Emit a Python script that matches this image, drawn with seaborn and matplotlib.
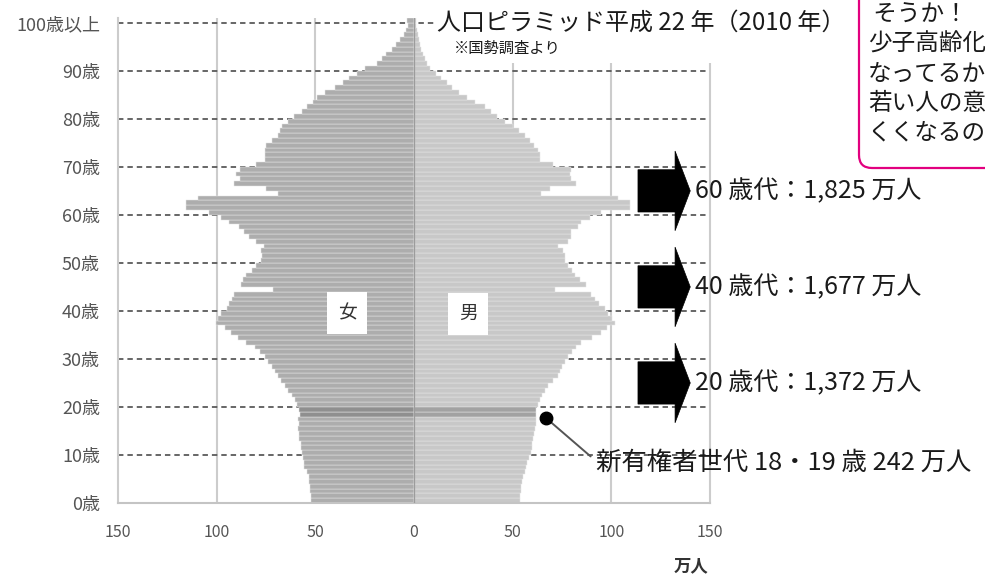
import numpy as np
import pandas as pd
import matplotlib
matplotlib.use("Agg")
import matplotlib.pyplot as plt
import seaborn as sns
from matplotlib.patches import Polygon, FancyBboxPatch, Rectangle

# ---------------- data (万人) ----------------
ages = list(range(0, 101))
female = [52.0, 52.2, 52.5, 52.6, 53.0, 53.0, 54.2, 55.5, 55.6, 56.0,
          56.8, 57.4, 57.5, 58.2, 58.3, 58.7, 58.5, 58.6, 58.0, 58.2,
          59.5, 60.5, 62.0, 64.0, 65.5, 67.5, 69.0, 70.6, 72.0, 74.0,
          75.7, 78.0, 80.8, 85.0, 89.0, 92.5, 96.0, 100.3, 99.5, 97.7,
          95.0, 94.0, 92.0, 91.0, 71.5, 87.6, 86.5, 85.0, 82.0, 80.0,
          77.5, 77.0, 77.5, 76.0, 80.0, 83.5, 86.0, 88.5, 94.0, 98.0,
          104.0, 115.4, 115.4, 109.5, 69.0, 75.0, 91.0, 88.4, 90.0, 88.4,
          80.0, 75.7, 75.7, 75.7, 75.0, 72.0, 69.0, 68.0, 67.0, 64.0,
          61.0, 57.0, 54.0, 51.0, 49.0, 45.0, 40.0, 36.0, 33.0, 29.0,
          25.0, 19.0, 16.0, 14.0, 11.0, 9.0, 7.0, 5.0, 4.0, 3.0,
          3.5]
male = [53.6, 53.8, 54.0, 54.4, 54.5, 55.0, 56.0, 57.0, 57.5, 58.5,
        59.5, 60.0, 60.0, 60.5, 61.0, 61.5, 61.8, 62.0, 62.0, 62.0,
        62.8, 63.7, 65.0, 66.5, 68.0, 70.5, 73.0, 74.0, 75.0, 76.5,
        78.0, 80.0, 82.0, 84.8, 90.0, 94.8, 98.0, 101.7, 100.5, 98.5,
        96.7, 94.0, 91.6, 89.5, 71.3, 87.0, 84.0, 81.4, 80.0, 78.0,
        76.4, 76.4, 75.5, 73.0, 78.0, 79.7, 79.7, 83.1, 84.8, 89.0,
        95.0, 109.3, 109.3, 103.4, 64.5, 68.8, 82.3, 79.7, 79.0, 79.7,
        70.5, 63.7, 64.0, 63.0, 61.0, 59.0, 56.0, 53.0, 50.0, 46.0,
        42.0, 39.0, 36.0, 31.0, 27.0, 23.0, 19.5, 16.5, 13.5, 11.0,
        8.0, 6.8, 5.5, 4.5, 3.8, 3.0, 2.5, 2.0, 1.5, 1.2,
        1.0]
highlight_ages = [18, 19]
age_ticks = [0, 10, 20, 30, 40, 50, 60, 70, 80, 90, 100]
age_labels = ["0歳", "10歳", "20歳", "30歳", "40歳", "50歳",
              "60歳", "70歳", "80歳", "90歳", "100歳以上"]
x_ticks = [-150, -100, -50, 0, 50, 100, 150]
x_labels = ["150", "100", "50", "0", "50", "100", "150"]
decades = [60, 40, 20]
decade_totals = ["1,825", "1,677", "1,372"]
title = "人口ピラミッド平成 22 年（2010 年）"
source = "※国勢調査より"
new_voters = "新有権者世代 18・19 歳 242 万人"
bubble_lines = [" そうか！", "少子高齢化", "なってるか", "若い人の意", "くくなるの"]

# ---------------- style ----------------
sns.set_style("white")
plt.rcParams["font.family"] = ["Noto Sans CJK JP", "DejaVu Sans"]

W, H = 985, 585
fig = plt.figure(figsize=(W / 100, H / 100), dpi=100)
ax = fig.add_axes([118 / W, 1 - 503 / H, 592 / W, 485 / H])

df = pd.DataFrame({
    "age": ages + ages,
    "pop": [-v for v in female] + male,
    "side": ["女"] * len(ages) + ["男"] * len(ages),
})
df["group"] = df["side"] + np.where(df["age"].isin(highlight_ages), "_hl", "")
palette = {"女": "#adadad", "男": "#c8c8c8", "女_hl": "#8f8f8f", "男_hl": "#a2a2a2"}

sns.barplot(data=df, x="pop", y="age", hue="group", palette=palette,
            orient="y", native_scale=True, dodge=False, width=1,
            errorbar=None, legend=False, saturation=1,
            edgecolor="#e6e6e6", linewidth=0.35, ax=ax, zorder=2)

ax.set_xlim(-150, 150)
ax.set_ylim(-0.5, 100.5)
ax.set_xlabel("")
ax.set_ylabel("")

# grid lines
for a in age_ticks[1:]:
    ax.axhline(a - 0.5, color="#5a5a5a", lw=1.3, dashes=(3, 2.2), zorder=1)
for xv in x_ticks[1:-1]:
    if xv != 0:
        ax.axvline(xv, color="#cccccc", lw=1.5, zorder=0.5)
ax.axvline(0, color="#9c9c9c", lw=0.9, zorder=3)

ax.spines["top"].set_visible(False)
for s in ["left", "right"]:
    ax.spines[s].set_color("#cccccc")
    ax.spines[s].set_linewidth(1.5)
ax.spines["bottom"].set_color("#c4c4c4")
ax.spines["bottom"].set_linewidth(1.5)

ax.set_yticks([a - 0.5 for a in age_ticks])
ax.set_yticklabels(age_labels)
ax.set_xticks(x_ticks)
ax.set_xticklabels(x_labels)
ax.tick_params(axis="y", direction="in", length=3, color="#777777",
               labelcolor="#555555", labelsize=13, pad=13)
ax.tick_params(axis="x", direction="inout", length=6, color="#c4c4c4",
               labelcolor="#555555", labelsize=11.5, pad=12)

# 女 / 男 labels
box = dict(boxstyle="square,pad=0.55", fc="white", ec="none")
ax.text(-34, 39.1, "女", ha="center", va="center", fontsize=13.5,
        color="#333333", bbox=box, zorder=4)
ax.text(27.4, 38.9, "男", ha="center", va="center", fontsize=13.5,
        color="#333333", bbox=box, zorder=4)

# arrows + decade totals
for d, tot in zip(decades, decade_totals):
    c = d + 4.5
    pts = [(113.5, c - 4.4), (132.3, c - 4.4), (132.3, c - 8.3), (140.0, c),
           (132.3, c + 8.3), (132.3, c + 4.4), (113.5, c + 4.4)]
    ax.add_patch(Polygon(pts, closed=True, fc="black", ec="black",
                         lw=0.5, zorder=5, clip_on=False))
    ax.text(142.4, c, f"{d} 歳代：{tot} 万人", ha="left", va="center",
            fontsize=18, color="#1a1a1a", zorder=6)

# new voters annotation
ax.plot([66.9, 89.5], [17.2, 9.2], color="#555555", lw=1.4, zorder=5,
        clip_on=False)
ax.plot([66.9], [17.2], "o", color="black", ms=9, zorder=6, clip_on=False)
ax.text(92.2, 7.8, new_voters, ha="left", va="center", fontsize=18.3,
        color="#1a1a1a", zorder=6)

# title block
fig.add_artist(Rectangle((435 / W, 1 - 63 / H), 410 / W, 63 / H,
                         transform=fig.transFigure, fc="white", ec="none",
                         zorder=2))
fig.text(437 / W, 1 - 23 / H, title, ha="left", va="center", fontsize=17.3,
         color="#1a1a1a", zorder=3)
fig.text(454 / W, 1 - 48 / H, source, ha="left", va="center", fontsize=11,
         color="#1a1a1a", zorder=3)

# x-axis unit
fig.text(691 / W, 1 - 566 / H, "万人", ha="center", va="center",
         fontsize=12.5, fontweight="bold", color="#333333")

# speech bubble (cut off at the edge)
fig.add_artist(FancyBboxPatch((8.59, (H - 168) / 100), 1.6, 2.3,
                              boxstyle="round,pad=0,rounding_size=0.13",
                              transform=fig.dpi_scale_trans, fc="white",
                              ec="#e2007f", lw=1.6, zorder=2))
for i, line in enumerate(bubble_lines):
    fig.text(8.68, (H - 15 - 29.5 * i) / 100, line, ha="left", va="center",
             fontsize=17, color="#1a1a1a", transform=fig.dpi_scale_trans,
             zorder=3)

fig.savefig("out.png", dpi=100)
